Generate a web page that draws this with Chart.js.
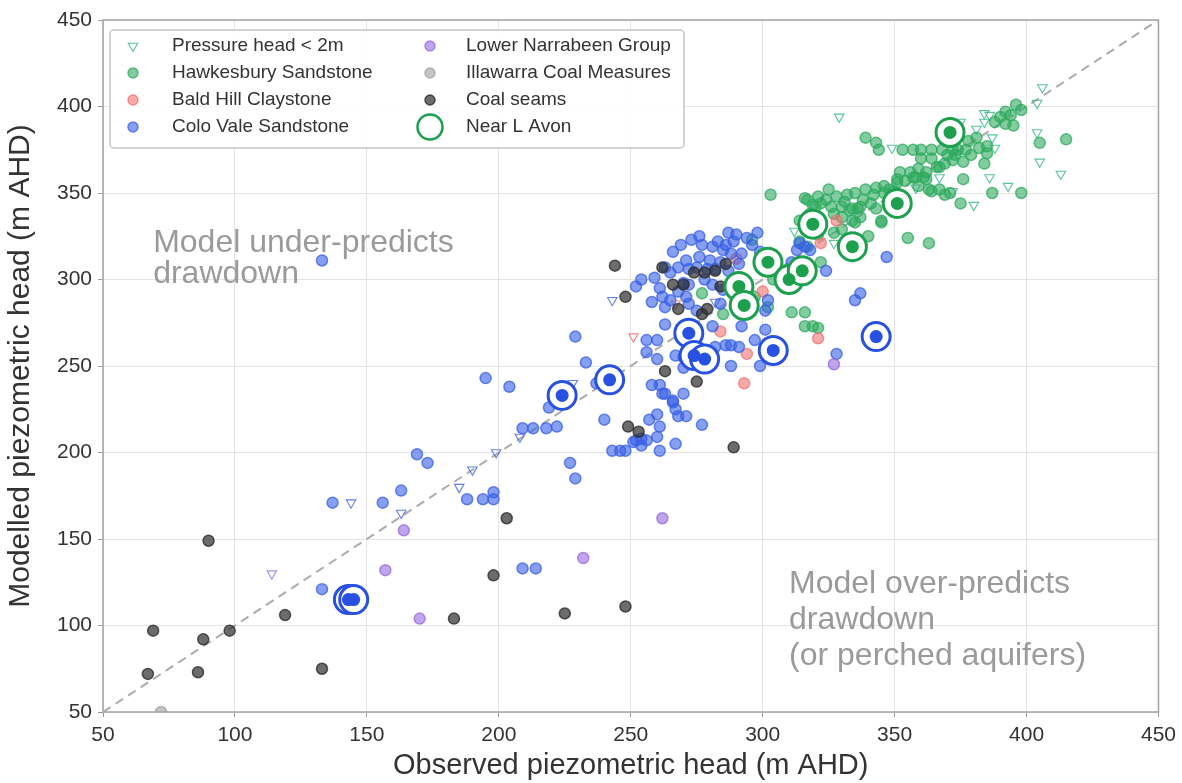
<!DOCTYPE html>
<html>
<head>
<meta charset="utf-8">
<title>Observed vs modelled piezometric head</title>
<script src="https://cdn.jsdelivr.net/npm/chart.js@4.4.1/dist/chart.umd.min.js"></script>
<style>
  html, body { margin: 0; padding: 0; background: #fff; }
  #wrap { width: 1182px; height: 783px; }
</style>
</head>
<body>
<div id="wrap"><canvas id="chart" width="1182" height="783"></canvas></div>
<script>
// axis range, m AHD (same on both axes)
var axisMin = 50, axisMax = 450, axisStep = 50;

// [observed, modelled] pairs
var hawkesbury = [
  [396,401],[398,398],[392,397],[394,395],[388,391],[395,389],[405,379],[415,381],[385,377],[381,382],[385,373],[384,367],
  [377,375],[374,375],[372,375],[368,375],[364,375],[360,375],[357,375],[353,375],[344,375],
  [360,370],[364,370],[372,369],[376,368],[367,365],[369,367],[357,359],[361,359],[376,358],[351,358],
  [346,354],[348,352],[359,354],[363,352],[367,352],[369,349],[375,344],[387,350],[398,350],
  [303,349],[339,382],[343,379],[355,324],[363,321],[345,333],[340,325],[325,352],[316,347],
  [328,348],[332,349],[335,350],[339,352],[343,353],[351,356],[362,358],
  [330,342],[334,341],[337,342],[341,344],[327,338],[330,336],[334,334],[337,336],[320,342],[318,338],[314,334],[327,327],[330,329],
  [317,346],[319,343],[322,344],[326,342],[333,340],[336,341],[343,341],
  [335,333],[345,334],[322,310],[364,351],[371,350],[358,359],[362,362],[366,365],
  [277,292],[285,280],[302,284],[311,281],[316,281],[316,273],[319,273],[321,272],
  [304,300],[307,304],[297,290],[314,322],[317,319],[321,326],[296,323],
  [324,346],[321,348],[331,345],[338,346],[342,349],[346,350],[350,351],[354,357],[356,362],[359,364],[352,362],
  [379,372],[382,376],[378,380],[373,372],[370,372],[390,394],[392,390]
];
var baldHill = [[321,266],[328,334],[322,321],[284,270],[294,257],[293,240],[300,293],[290,312]];
var coloVale = [
  [133,311],[195,243],[204,238],[169,199],[173,194],[219,226],[209,214],[213,214],[218,214],[222,215],[227,194],[229,185],
  [163,178],[156,171],[137,171],[188,173],[194,173],[198,177],[198,173],[209,133],[214,133],[229,267],[133,121],[233,252],[240,219],[237,240],
  [252,296],[254,300],[259,301],[261,295],[263,307],[263,284],[263,274],[256,265],[260,265],[256,258],[260,254],[258,239],[261,239],
  [263,234],[266,229],[270,234],[267,225],[268,221],[271,221],[257,219],[260,222],[261,215],[260,209],[256,207],[252,207],[261,201],
  [243,201],[246,201],[248,201],[254,204],[277,216],[267,205],[272,271],[270,255],[281,273],[282,261],[286,262],[288,262],[291,261],
  [288,250],[297,265],[299,250],[301,271],[292,273],
  [287,327],[290,326],[294,324],[298,327],[277,320],[281,319],[285,317],[288,315],[292,315],[276,313],[280,311],[284,310],[275,307],
  [279,306],[282,306],[271,311],[272,306],[268,307],[265,304],[270,298],[272,297],[271,290],[272,286],[275,282],[285,294],[284,286],
  [292,296],[301,282],[302,288],[313,317],[311,310],[267,256],[270,249],[262,234],[266,230],[251,206],[254,208],
  [347,313],[337,292],[335,288],[328,257],[324,305],[314,321],[316,319],[318,317],
  [266,316],[269,320],[273,323],[276,325],[283,322],[286,320],[289,322],[296,320],[299,316],[291,309],[287,305],[278,300],
  [281,297],[268,293],[265,288],[258,287],[262,290]
];
var narrabeen = [[164,155],[157,132],[170,104],[232,139],[262,162],[327,251]];
var illawarra = [[72,50]];
var coalSeams = [
  [90,149],[69,97],[88,92],[98,97],[67,72],[86,73],[119,106],[133,75],[203,162],[198,129],[183,104],[225,107],[248,111],
  [244,308],[248,290],[262,307],[266,297],[270,297],[268,283],[274,304],[278,304],[282,305],[286,309],[284,296],[277,280],
  [279,283],[263,247],[275,241],[249,215],[253,212],[289,203]
];
// pressure head < 2m, split by the unit they sit in
var lowHeadHawkesbury = [
  [406,411],[404,402],[386,395],[384,391],[375,391],[381,387],[387,382],[404,385],[405,368],[413,361],[388,376],
  [349,376],[386,359],[393,354],[380,343],[372,351],[367,359],[358,353],[329,394],[384,396],[312,328],[327,321]
];
var lowHeadColoVale = [[144,171],[163,165],[185,180],[190,190],[199,200],[208,209],[243,288],[228,240],[282,287]];
var lowHeadNarrabeen = [[114,130]];
var lowHeadBaldHill = [[251,267],[267,286]];
// bores near Lake Avon
var avonHawkesbury = [[371,385],[351,344],[319,332],[334,319],[302,310],[310,300],[315,305],[291,296],[293,285]];
var avonColoVale = [[224,233],[242,242],[272,269],[274,256],[278,254],[304,259],[343,267],[143,115],[145,115]];

var notes = [
  { x: 69, y: 321, gap: 31, lines: ['Model under-predicts', 'drawdown'] },
  { x: 310, y: 124, gap: 36, lines: ['Model over-predicts', 'drawdown', '(or perched aquifers)'] }
];

Chart.defaults.font.family = "'Liberation Sans', Arial, sans-serif";
Chart.defaults.color = '#333';

function toPoints(list) {
  return list.map(function (p) { return { x: p[0], y: p[1] }; });
}

function unit(label, list, fill, edge, order, slot) {
  return {
    type: 'scatter', label: label, data: toPoints(list),
    pointStyle: 'circle', pointRadius: 5.5, pointBorderWidth: 1.5,
    pointBackgroundColor: fill, pointBorderColor: edge,
    order: order, legendSlot: slot, legendRadius: 5, clip: 0
  };
}

function lowHead(label, list, edge, slot) {
  return {
    type: 'scatter', label: label, data: toPoints(list),
    pointStyle: 'triangle', pointRotation: 180, pointRadius: 5.5, pointBorderWidth: 1.1,
    pointBackgroundColor: 'rgba(255,255,255,0)', pointBorderColor: edge,
    order: 20, legendSlot: slot
  };
}

function avonRing(label, list, colour, slot) {
  return {
    type: 'scatter', label: label, data: toPoints(list),
    pointStyle: 'circle', pointRadius: 14, pointBorderWidth: 3,
    pointBackgroundColor: '#fff', pointBorderColor: colour,
    order: 2, legendSlot: slot, legendRadius: 12.5, legendBorder: 2.5
  };
}

function avonDot(list, colour) {
  return {
    type: 'scatter', label: 'L Avon dot', data: toPoints(list),
    pointStyle: 'circle', pointRadius: 6.5, pointBorderWidth: 0,
    pointBackgroundColor: colour, pointBorderColor: colour, order: 1
  };
}

var datasets = [
  {
    type: 'line', label: '1:1', data: [{ x: axisMin, y: axisMin }, { x: axisMax, y: axisMax }],
    borderColor: '#ababab', borderWidth: 2, borderDash: [9, 6], pointRadius: 0, order: 30
  },
  lowHead('Pressure head < 2m', lowHeadHawkesbury, 'rgba(60,185,140,0.85)', 0),
  lowHead('low head colo vale', lowHeadColoVale, 'rgba(70,105,230,0.85)'),
  lowHead('low head narrabeen', lowHeadNarrabeen, 'rgba(140,130,235,0.85)'),
  lowHead('low head bald hill', lowHeadBaldHill, 'rgba(240,110,110,0.85)'),
  unit('Hawkesbury Sandstone', hawkesbury, 'rgba(46,170,95,0.6)', 'rgba(46,170,95,0.75)', 10, 1),
  unit('Bald Hill Claystone', baldHill, 'rgba(240,115,115,0.6)', 'rgba(240,115,115,0.75)', 8, 2),
  unit('Colo Vale Sandstone', coloVale, 'rgba(55,95,230,0.6)', 'rgba(55,95,230,0.75)', 7, 3),
  unit('Lower Narrabeen Group', narrabeen, 'rgba(150,105,225,0.6)', 'rgba(150,105,225,0.75)', 6, 4),
  unit('Illawarra Coal Measures', illawarra, 'rgba(160,160,160,0.6)', 'rgba(160,160,160,0.75)', 5, 5),
  unit('Coal seams', coalSeams, 'rgba(45,45,45,0.7)', 'rgba(45,45,45,0.8)', 4, 6),
  avonRing('Near L Avon', avonHawkesbury, 'rgb(28,160,78)', 7),
  avonRing('L Avon colo vale', avonColoVale, 'rgb(40,80,225)'),
  avonDot(avonHawkesbury, 'rgb(28,160,78)'),
  avonDot(avonColoVale, 'rgb(40,80,225)')
];

// grey frame round the plot area
var plotFrame = {
  id: 'plotFrame',
  beforeDatasetsDraw: function (chart) {
    var a = chart.chartArea, ctx = chart.ctx;
    ctx.save();
    ctx.strokeStyle = '#a3a3a3';
    ctx.lineWidth = 1.5;
    ctx.strokeRect(a.left, a.top, a.right - a.left, a.bottom - a.top);
    ctx.restore();
  }
};

// the two grey notes, placed in data units
var plotNotes = {
  id: 'plotNotes',
  beforeDatasetsDraw: function (chart) {
    var ctx = chart.ctx, xs = chart.scales.x, ys = chart.scales.y;
    ctx.save();
    ctx.fillStyle = '#9a9a9a';
    ctx.font = "32px 'Liberation Sans', Arial, sans-serif";
    ctx.textBaseline = 'middle';
    ctx.textAlign = 'left';
    notes.forEach(function (n) {
      var px = xs.getPixelForValue(n.x), py = ys.getPixelForValue(n.y);
      n.lines.forEach(function (line, i) {
        ctx.fillText(line, px, py + i * n.gap);
      });
    });
    ctx.restore();
  }
};

// two-column legend in the top-left corner of the plot
var boxLegend = {
  id: 'boxLegend',
  afterDraw: function (chart) {
    var ctx = chart.ctx, a = chart.chartArea;
    var left = a.left + 7, top = a.top + 10, w = 574, h = 118;
    ctx.save();
    ctx.fillStyle = 'rgba(255,255,255,0.9)';
    ctx.strokeStyle = '#c4c4c4';
    ctx.lineWidth = 1.5;
    ctx.beginPath();
    if (ctx.roundRect) {
      ctx.roundRect(left, top, w, h, 4);
    } else {
      ctx.rect(left, top, w, h);
    }
    ctx.fill();
    ctx.stroke();

    ctx.font = "19px 'Liberation Sans', Arial, sans-serif";
    ctx.textBaseline = 'middle';
    chart.data.datasets.forEach(function (ds) {
      if (ds.legendSlot === undefined) return;
      var col = Math.floor(ds.legendSlot / 4), row = ds.legendSlot % 4;
      var mx = left + 23 + col * 297, my = top + 16 + row * 27;
      ctx.fillStyle = ds.pointBackgroundColor;
      ctx.strokeStyle = ds.pointBorderColor;
      ctx.lineWidth = ds.legendBorder || ds.pointBorderWidth;
      Chart.helpers.drawPoint(ctx, {
        pointStyle: ds.pointStyle,
        rotation: ds.pointRotation || 0,
        radius: ds.legendRadius || ds.pointRadius,
        borderWidth: ds.legendBorder || ds.pointBorderWidth
      }, mx, my);
      ctx.fillStyle = '#333';
      ctx.fillText(ds.label, left + 62 + col * 294, my);
    });
    ctx.restore();
  }
};

function axis(title, titleSize, isX) {
  return {
    type: 'linear',
    min: axisMin,
    max: axisMax,
    ticks: { stepSize: axisStep, padding: 6, color: '#333', font: { size: 21 } },
    grid: { color: '#e4e4e4', lineWidth: 1, tickLength: 5, tickColor: '#9a9a9a' },
    border: { display: false },
    title: {
      display: true, text: title, color: '#333',
      font: { size: titleSize },
      padding: { top: isX ? 0 : 3, bottom: 0 }
    },
    afterFit: function (scale) {
      if (isX) { scale.height = 71; } else { scale.width = 103; }
    }
  };
}

new Chart(document.getElementById('chart'), {
  type: 'scatter',
  data: { datasets: datasets },
  options: {
    responsive: false,
    animation: false,
    layout: { padding: { top: 20, right: 22, left: 0, bottom: 0 } },
    plugins: {
      legend: { display: false },
      tooltip: { enabled: false }
    },
    scales: {
      x: axis('Observed piezometric head (m AHD)', 29, true),
      y: axis('Modelled piezometric head (m AHD)', 30, false)
    }
  },
  plugins: [plotFrame, plotNotes, boxLegend]
});
</script>
</body>
</html>
